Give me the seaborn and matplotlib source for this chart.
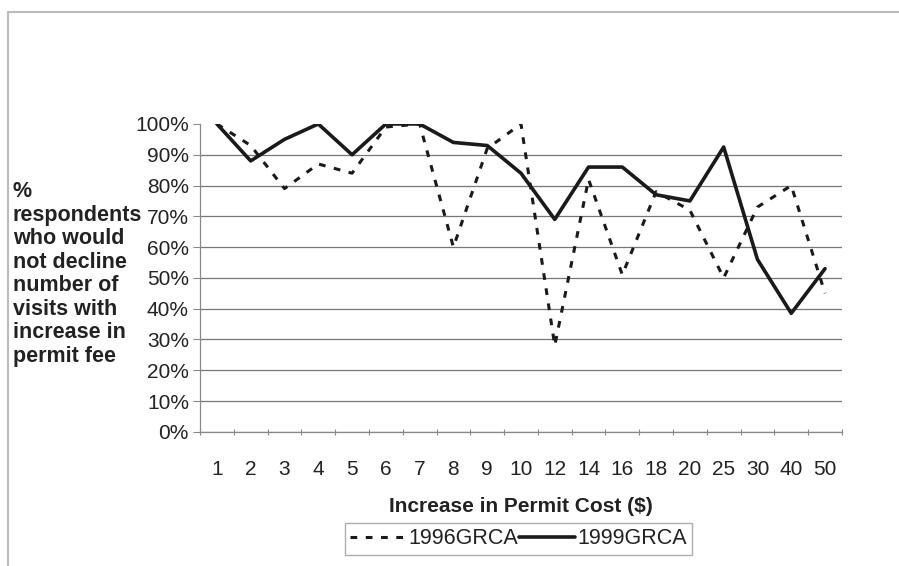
import matplotlib
matplotlib.use("Agg")
import matplotlib.pyplot as plt
from matplotlib.lines import Line2D
from matplotlib.ticker import FixedLocator, PercentFormatter
import seaborn as sns
import pandas as pd

# Permit fee increase categories ($)
costs = ["1", "2", "3", "4", "5", "6", "7", "8", "9", "10",
         "12", "14", "16", "18", "20", "25", "30", "40", "50"]
# Share of respondents who would not decline visits
grca_1996 = [1.00, 0.93, 0.79, 0.87, 0.84, 0.99, 1.00, 0.60, 0.92, 1.00,
             0.28, 0.82, 0.51, 0.78, 0.72, 0.50, 0.73, 0.80, 0.45]
grca_1999 = [1.00, 0.88, 0.95, 1.00, 0.90, 1.00, 1.00, 0.94, 0.93, 0.84,
             0.69, 0.86, 0.86, 0.77, 0.75, 0.925, 0.56, 0.385, 0.53]
series_names = ["1996GRCA", "1999GRCA"]

sns.set_theme(style="white")
plt.rcParams["font.family"] = ["Liberation Sans", "DejaVu Sans"]

df = pd.DataFrame({
    "pos": list(range(len(costs))) * 2,
    "value": grca_1996 + grca_1999,
    "series": [series_names[0]] * len(costs) + [series_names[1]] * len(costs),
})

fig = plt.figure(figsize=(8.99, 5.66), dpi=100)
ax = fig.add_axes([0.2225, 0.237, 0.714, 0.544])

dash = (0, (2.2, 2.8))
sub96 = df[df.series == series_names[0]]
sub99 = df[df.series == series_names[1]]
sns.lineplot(data=sub96, x="pos", y="value", ax=ax, color="#1a1a1a",
             linewidth=2.2, linestyle=dash, label=series_names[0])
sns.lineplot(data=sub99, x="pos", y="value", ax=ax, color="#1a1a1a",
             linewidth=2.6, label=series_names[1])

ax.set_xlim(-0.5, len(costs) - 0.5)
ax.set_ylim(0, 1.0)
ax.set_xticks(range(len(costs)))
ax.set_xticklabels(costs, fontsize=15, color="#222222")
ax.xaxis.set_minor_locator(FixedLocator([i - 0.5 for i in range(len(costs) + 1)]))
ax.tick_params(axis="x", which="major", length=0, pad=20)
ax.tick_params(axis="x", which="minor", length=5, width=0.8, color="#888888",
               direction="inout", bottom=True)
ax.set_yticks([i / 10 for i in range(11)])
ax.yaxis.set_major_formatter(PercentFormatter(1.0, decimals=0))
ax.tick_params(axis="y", labelsize=15, labelcolor="#222222", length=5,
               width=0.8, color="#888888", left=True, pad=3)

for y in [i / 10 for i in range(10)]:
    ax.axhline(y, color="#777777", linewidth=0.9, zorder=0)

for s in ["top", "right"]:
    ax.spines[s].set_visible(False)
for s in ["left", "bottom"]:
    ax.spines[s].set_color("#888888")
    ax.spines[s].set_linewidth(0.9)

ax.set_xlabel("Increase in Permit Cost ($)", fontsize=15, fontweight="bold",
              color="#222222", labelpad=13)
ax.set_ylabel("")

fig.text(0.014, 0.680,
         "%\nrespondents\nwho would\nnot decline\nnumber of\nvisits with\nincrease in\npermit fee",
         fontsize=15.5, fontweight="bold", color="#222222", ha="left", va="top",
         linespacing=1.16)

ax.get_legend().remove()
handles = [Line2D([], [], color="#1a1a1a", linewidth=2.2, linestyle=dash),
           Line2D([], [], color="#1a1a1a", linewidth=2.6)]
leg = fig.legend(handles, series_names, loc="center", ncol=2,
                 bbox_to_anchor=(0.577, 0.048), fontsize=15.5, frameon=True,
                 fancybox=False, handlelength=2.6, handletextpad=0.1,
                 columnspacing=0.05, borderpad=0.25, borderaxespad=0)
leg.get_frame().set_edgecolor("#999999")
leg.get_frame().set_linewidth(1.0)
for t in leg.get_texts():
    t.set_color("#222222")

# Outer chart frame (top and left edges)
fig.add_artist(Line2D([0.009, 1.0], [0.979, 0.979], transform=fig.transFigure,
                      color="#bbbbbb", linewidth=1.5))
fig.add_artist(Line2D([0.009, 0.009], [0.0, 0.979], transform=fig.transFigure,
                      color="#bbbbbb", linewidth=1.5))

fig.savefig("out.png", dpi=100)
